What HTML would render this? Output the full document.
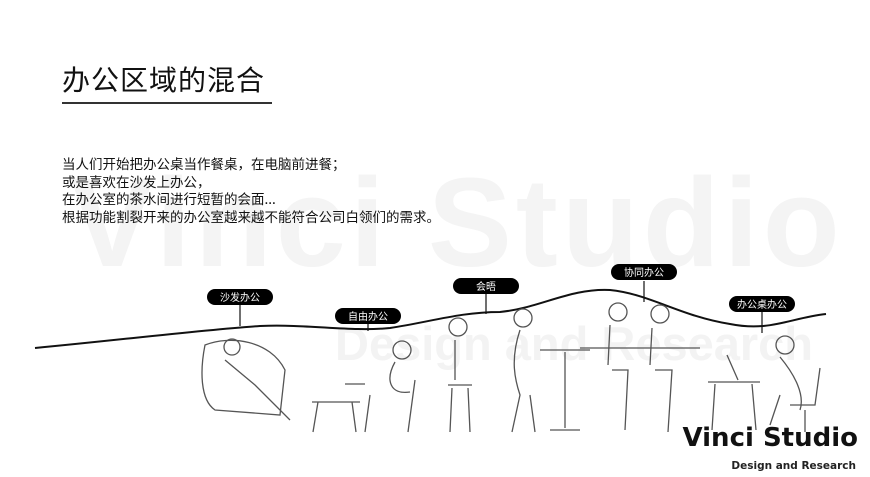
<!DOCTYPE html>
<html><head><meta charset="utf-8"><style>
body{margin:0;width:870px;height:477px;background:#fff;overflow:hidden;position:relative;font-family:"Liberation Sans","Noto Sans CJK SC",sans-serif}
.wm{position:absolute;left:70px;top:150px;font-size:126px;font-weight:bold;color:#f4f4f4;letter-spacing:4px;white-space:nowrap;font-family:"Liberation Sans",sans-serif}
.wm2{position:absolute;left:335px;top:316px;font-size:47px;font-weight:bold;color:#f3f3f3;white-space:nowrap;font-family:"Liberation Sans",sans-serif}
h1{position:absolute;left:62px;top:59px;margin:0;font-size:28px;font-weight:normal;color:#111;font-family:"Noto Sans CJK SC",sans-serif;letter-spacing:1px}
.ul{position:absolute;left:62px;top:102px;width:210px;height:1.5px;background:#333}
.p{position:absolute;left:62px;top:155px;font-size:13.5px;line-height:17.5px;color:#111;font-family:"Noto Sans CJK SC",sans-serif}
.tag{position:absolute;height:16px;width:66px;background:#000;color:#fff;border-radius:8px;font-size:10px;line-height:16px;text-align:center;font-family:"Noto Sans CJK SC",sans-serif}
.b1{position:absolute;right:12px;top:423px;font-size:26px;font-weight:bold;color:#111;font-family:"DejaVu Sans",sans-serif}
.b2{position:absolute;right:14px;top:460px;font-size:10.5px;font-weight:bold;color:#222;font-family:"DejaVu Sans",sans-serif}
svg{position:absolute;left:0;top:0}
</style></head><body>
<div class="wm">Vinci Studio</div>
<div class="wm2">Design and Research</div>
<h1>办公区域的混合</h1><div class="ul"></div>
<div class="p">当人们开始把办公桌当作餐桌，在电脑前进餐；<br>或是喜欢在沙发上办公，<br>在办公室的茶水间进行短暂的会面...<br>根据功能割裂开来的办公室越来越不能符合公司白领们的需求。</div>
<svg width="870" height="477">
<path d="M35 348 C120 340 200 330 260 326 C310 324 350 332 390 328 C430 322 460 312 500 312 C540 308 570 288 610 290 C650 294 680 316 730 324 C770 332 790 318 826 314" fill="none" stroke="#111" stroke-width="2"/>
<g stroke="#111" stroke-width="1.2">
<line x1="240" y1="305" x2="240" y2="326"/><line x1="368" y1="324" x2="368" y2="331"/><line x1="486" y1="294" x2="486" y2="314"/><line x1="644" y1="281" x2="644" y2="302"/><line x1="762" y1="312" x2="762" y2="333"/>
</g>
<g fill="none" stroke="#555" stroke-width="1.3">
<path d="M205 345 C200 370 200 400 215 410 L280 415 L285 370 C270 340 230 335 205 345Z"/>
<circle cx="232" cy="347" r="8"/><path d="M225 360 L255 385 L290 420"/>
<path d="M312 402 L360 402 M318 402 L313 432 M352 402 L356 432 M370 395 L365 432 M415 380 L408 432"/>
<circle cx="402" cy="350" r="9"/><path d="M395 362 C385 380 390 395 410 392 M345 384 L365 384"/>
<circle cx="458" cy="327" r="9"/><path d="M455 340 L455 380 M448 385 L472 385 M452 388 L450 432 M468 388 L470 432"/>
<circle cx="523" cy="318" r="9"/><path d="M520 330 C510 360 515 380 520 395 L512 432 M530 395 L535 432"/>
<path d="M540 350 L590 350 M565 352 L565 428 M550 430 L580 430"/>
<path d="M580 348 L700 348"/>
<circle cx="618" cy="312" r="9"/><circle cx="660" cy="314" r="9"/>
<path d="M610 325 L608 365 M612 370 L628 370 L625 430 M652 328 L650 365 M655 370 L672 370 L668 432"/>
<path d="M708 382 L760 382 M715 384 L712 430 M752 384 L756 430 M727 355 L738 380"/>
<circle cx="785" cy="345" r="9"/><path d="M780 357 C795 375 805 395 800 410 M790 405 L815 405 L820 368 M805 410 L805 432 M780 395 L770 425"/>
</g>
</svg>
<div class="tag" style="left:207px;top:289px">沙发办公</div>
<div class="tag" style="left:335px;top:308px">自由办公</div>
<div class="tag" style="left:453px;top:278px">会晤</div>
<div class="tag" style="left:611px;top:264px">协同办公</div>
<div class="tag" style="left:729px;top:296px">办公桌办公</div>
<div class="b1">Vinci Studio</div>
<div class="b2">Design and Research</div>
</body></html>
